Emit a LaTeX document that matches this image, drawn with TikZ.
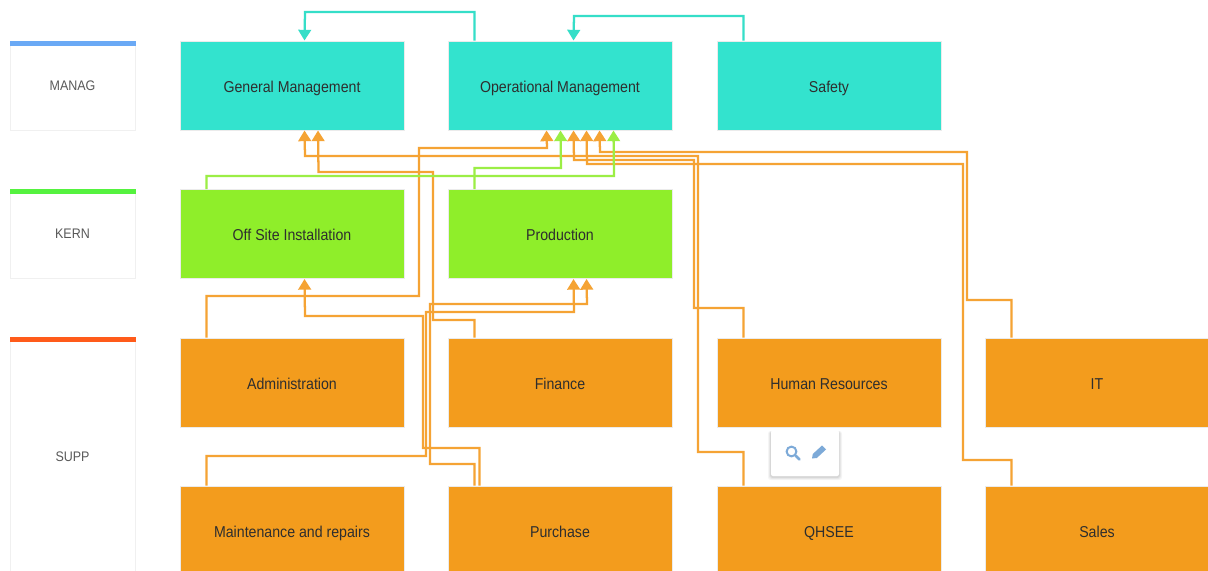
\documentclass[tikz,border=0pt]{standalone}
\usepackage{fontspec}
\setmainfont{Liberation Sans}[FakeStretch=0.9]
\usetikzlibrary{arrows.meta,calc}
\definecolor{teal1}{HTML}{33E3CE}
\definecolor{green1}{HTML}{8FEE2A}
\definecolor{orange1}{HTML}{F39C1D}
\definecolor{orline}{HTML}{F5A334}
\definecolor{tealline}{HTML}{35DEC8}
\definecolor{grline}{HTML}{9BEE45}
\definecolor{iconblue}{HTML}{7DAAD8}
\tikzset{
  x=0.75pt,y=-0.75pt,
  box/.style={draw=black!8,line width=0.75pt,minimum width=168pt,minimum height=66.75pt,inner sep=0pt,text=black!82,text height=10.2pt,text depth=0pt,font=\fontsize{11.8pt}{13pt}\selectfont},
  mgbox/.style={box,fill=teal1},
  krbox/.style={box,fill=green1},
  spbox/.style={box,fill=orange1},
  lane/.style={draw=black!6,line width=0.75pt,fill=white,minimum width=93.75pt,inner sep=0pt,text=black!65,text height=6.8pt,text depth=0pt,font=\fontsize{10.4pt}{11pt}\selectfont},
  link/.style={line width=1.7pt,line join=miter,-{Triangle[length=8pt,width=9.5pt]}},
  orlink/.style={link,draw=orline,color=orline},
  grlink/.style={link,draw=grline,color=grline},
  tllink/.style={link,draw=tealline,color=tealline},
}
\begin{document}
\begin{tikzpicture}
\clip (0,0) rectangle (1208,571);
\fill[white] (0,0) rectangle (1208,571);
% lanes
\node[lane,minimum height=66.75pt] (lm) at (72.5,85.5) {MANAG};
\node[lane,minimum height=66.75pt] (lk) at (72.5,234) {KERN};
\node[lane,minimum height=178pt] (ls) at (72.5,456.5) {SUPP};
\fill[color={rgb,255:red,106;green,169;blue,245}] (lm.north west) rectangle ($(lm.north east)+(0,5)$);
\fill[color={rgb,255:red,85;green,242;blue,63}] (lk.north west) rectangle ($(lk.north east)+(0,5)$);
\fill[color={rgb,255:red,255;green,91;blue,26}] (ls.north west) rectangle ($(ls.north east)+(0,5)$);
% boxes
\node[mgbox] (gm) at (292,85.5) {General Management};
\node[mgbox] (om) at (560,85.5) {Operational Management};
\node[mgbox] (sf) at (829,85.5) {Safety};
\node[krbox] (os) at (292,234) {Off Site Installation};
\node[krbox] (pr) at (560,234) {Production};
\node[spbox] (ad) at (292,382.5) {Administration};
\node[spbox] (fi) at (560,382.5) {Finance};
\node[spbox] (hr) at (829,382.5) {Human Resources};
\node[spbox] (it) at (1097,382.5) {IT};
\node[spbox] (mr) at (292,530.5) {Maintenance and repairs};
\node[spbox] (pu) at (560,530.5) {Purchase};
\node[spbox] (qh) at (829,530.5) {QHSEE};
\node[spbox] (sa) at (1097,530.5) {Sales};
% teal
\draw[tllink] ($(om.north west)+(27,0)$) |- (305,12) -- ($(gm.north west)+(125,0)$);
\draw[tllink] ($(sf.north west)+(27,0)$) |- (574,16) -- ($(om.north west)+(126,0)$);
% orange to management
\draw[orlink] ($(ad.north west)+(27,0)$) |- (419,296) |- (547,148) -- ($(om.south west)+(99,0)$);
\draw[orlink] ($(hr.north west)+(27,0)$) |- (694,308) |- (574,160) -- ($(om.south west)+(126,0)$);
\draw[orlink] ($(qh.north west)+(27,0)$) |- (698,452) |- (305,156) -- ($(gm.south west)+(125,0)$);
\draw[orlink] ($(fi.north west)+(27,0)$) |- (433,320) |- (318.5,172) -- ($(gm.south west)+(138.5,0)$);
\draw[orlink] ($(it.north west)+(27,0)$) |- (967,300) |- (600,152) -- ($(om.south west)+(152,0)$);
\draw[orlink] ($(sa.north west)+(27,0)$) |- (963,460) |- (587,164) -- ($(om.south west)+(139,0)$);
% orange to core
\draw[orlink] ($(mr.north west)+(27,0)$) |- (426,456) |- (574,312) -- ($(pr.south west)+(126,0)$);
\draw[orlink] ($(pu.north west)+(27,0)$) |- (430,464) |- (587,304) -- ($(pr.south west)+(139,0)$);
\draw[orlink] ($(pu.north west)+(32,0)$) |- (423,448) |- (305,316) -- ($(os.south west)+(125,0)$);
% green
\draw[grlink] ($(os.north west)+(27,0)$) |- (614,176) -- ($(om.south west)+(166,0)$);
\draw[grlink] ($(pr.north west)+(27,0)$) |- (561,168) -- ($(om.south west)+(113,0)$);
% popup
\foreach \o/\c in {3/0.04,2/0.05,1/0.07}
  \fill[black,opacity=\c,rounded corners=2pt] (771-\o,431) rectangle (839+\o,476+\o+1);
\node[fill=white,rounded corners=1.5pt,minimum width=51pt,minimum height=34.5pt,inner sep=0pt] (pop) at (805,453) {};
\draw[iconblue,line width=1.5pt] ($(pop.center)+(-13.5,-1.5)$) circle (4.9);
\draw[iconblue,line width=2pt,line cap=round] ($(pop.center)+(-9.5,2.5)$) -- ($(pop.center)+(-5.5,6.5)$);
\fill[iconblue] ($(pop.center)+(7,5.5)$) -- ($(pop.center)+(7.8,1)$) -- ($(pop.center)+(17,-7.5)$) -- ($(pop.center)+(21,-3.5)$) -- ($(pop.center)+(11.8,5)$) -- cycle;
\end{tikzpicture}
\end{document}
